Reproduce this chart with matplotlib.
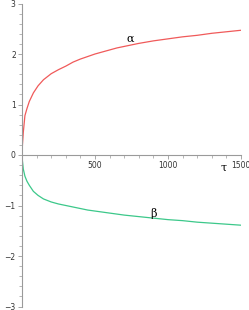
import matplotlib
matplotlib.use("Agg")
import matplotlib.pyplot as plt
from matplotlib.ticker import MultipleLocator, FixedLocator

tau = [0, 3, 9, 20, 34, 50, 78, 110, 147, 200, 250, 300, 350, 400, 450, 500, 550, 600, 650, 700, 800, 900, 1000, 1100, 1200, 1300, 1400, 1500]
alpha = [0, 0.2, 0.45, 0.78, 0.92, 1.06, 1.23, 1.37, 1.49, 1.61, 1.69, 1.76, 1.84, 1.90, 1.95, 2.00, 2.04, 2.08, 2.12, 2.15, 2.21, 2.26, 2.30, 2.34, 2.37, 2.41, 2.44, 2.47]
beta = [0, -0.12, -0.28, -0.42, -0.52, -0.60, -0.72, -0.80, -0.87, -0.93, -0.97, -1.00, -1.03, -1.06, -1.09, -1.11, -1.13, -1.15, -1.17, -1.19, -1.22, -1.25, -1.28, -1.30, -1.33, -1.35, -1.37, -1.39]

x_ticks = [500, 1000, 1500]
y_ticks = [-3, -2, -1, 0, 1, 2, 3]

fig = plt.figure(figsize=(2.49, 3.10), dpi=100)
ax = fig.add_axes([22/249, 3.5/310, 219/249, 303/310])

ax.plot(tau, alpha, color="#f05a5a", lw=0.9)
ax.plot(tau, beta, color="#3cc88a", lw=0.9)

ax.set_xlim(0, 1500)
ax.set_ylim(-3, 3)

for s in ["top", "right"]:
    ax.spines[s].set_visible(False)
ax.spines["left"].set_position(("data", 0))
ax.spines["bottom"].set_position(("data", 0))
for s in ["left", "bottom"]:
    ax.spines[s].set_color("#9a9a9a")
    ax.spines[s].set_linewidth(0.8)
ax.patch.set_visible(False)

ax.xaxis.set_major_locator(FixedLocator(x_ticks))
ax.xaxis.set_minor_locator(MultipleLocator(100))
ax.yaxis.set_major_locator(FixedLocator(y_ticks))
ax.yaxis.set_minor_locator(MultipleLocator(0.2))
ax.set_xticklabels([str(v) for v in x_ticks])
ax.set_yticklabels([("\u2212" + str(-v)) if v < 0 else str(v) for v in y_ticks])
ax.tick_params(axis="both", which="major", length=3, width=0.6, color="#9a9a9a",
               labelsize=5.5, labelcolor="#333333", pad=1.5)
ax.tick_params(axis="both", which="minor", length=2, width=0.5, color="#9a9a9a")

ax.text(743, 2.3, "\u03b1", family="DejaVu Serif", fontsize=8, ha="center", va="center")
ax.text(900, -1.15, "\u03b2", family="DejaVu Serif", fontsize=8, ha="center", va="center")
ax.text(1383, -0.25, "\u03c4", family="DejaVu Serif", fontsize=8, ha="center", va="center")

fig.savefig("out.png", dpi=100)
